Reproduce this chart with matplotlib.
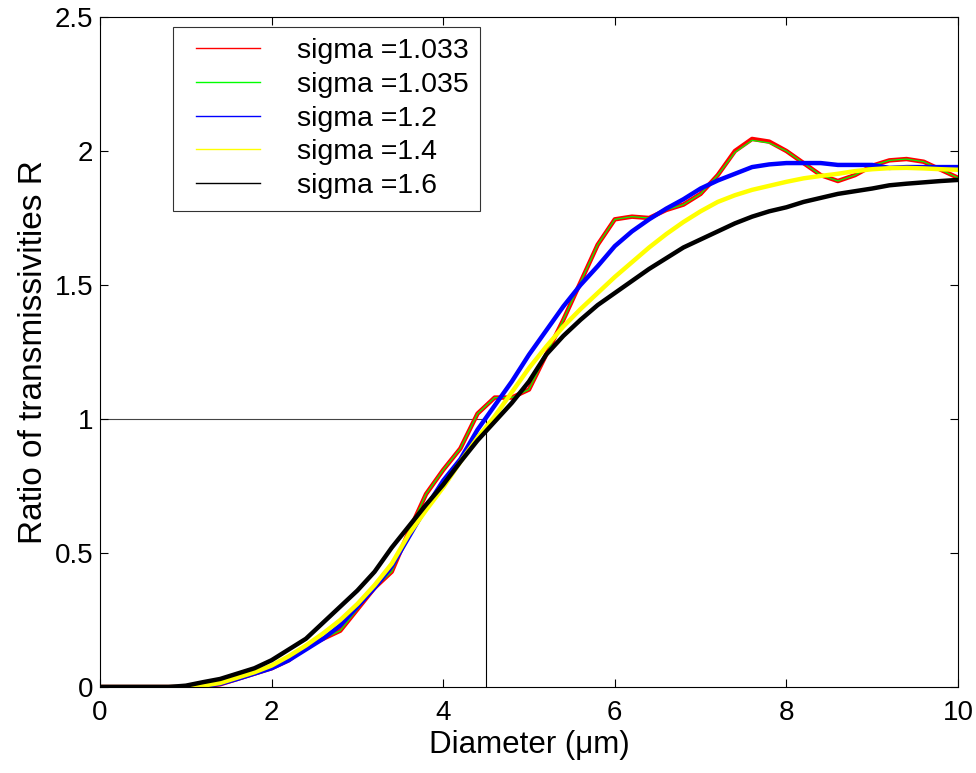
import numpy as np
import matplotlib.pyplot as plt

plt.rcParams['font.family'] = ['Liberation Sans', 'DejaVu Sans']

# diameter grid (um)
diam = [0.0, 0.2, 0.4, 0.6, 0.8, 1.0, 1.2, 1.4, 1.6, 1.8,
        2.0, 2.2, 2.4, 2.6, 2.8, 3.0, 3.2, 3.4, 3.6, 3.8,
        4.0, 4.2, 4.4, 4.6, 4.8, 5.0, 5.2, 5.4, 5.6, 5.8,
        6.0, 6.2, 6.4, 6.6, 6.8, 7.0, 7.2, 7.4, 7.6, 7.8,
        8.0, 8.2, 8.4, 8.6, 8.8, 9.0, 9.2, 9.4, 9.6, 9.8, 10.0]

r_1033 = [0, 0, 0, 0, 0, 0, 0.003, 0.01, 0.03, 0.05,
          0.07, 0.10, 0.15, 0.18, 0.21, 0.29, 0.37, 0.43, 0.58, 0.72,
          0.81, 0.89, 1.02, 1.08, 1.08, 1.11, 1.24, 1.37, 1.51, 1.65,
          1.745, 1.755, 1.75, 1.78, 1.80, 1.84, 1.91, 2.0, 2.045, 2.035,
          2.0, 1.955, 1.91, 1.888, 1.91, 1.945, 1.965, 1.97, 1.96, 1.93, 1.90]

r_1035 = [0, 0, 0, 0, 0, 0, 0.003, 0.01, 0.03, 0.05,
          0.07, 0.10, 0.15, 0.18, 0.21, 0.29, 0.37, 0.43, 0.58, 0.72,
          0.81, 0.89, 1.02, 1.08, 1.08, 1.11, 1.24, 1.37, 1.51, 1.65,
          1.745, 1.755, 1.75, 1.78, 1.80, 1.84, 1.91, 1.995, 2.04, 2.03,
          2.0, 1.955, 1.91, 1.888, 1.91, 1.945, 1.965, 1.97, 1.96, 1.93, 1.90]

r_12 = [0, 0, 0, 0, 0, 0, 0.003, 0.012, 0.03, 0.05,
        0.07, 0.10, 0.14, 0.18, 0.23, 0.30, 0.37, 0.45, 0.56, 0.67,
        0.77, 0.85, 0.96, 1.05, 1.14, 1.24, 1.33, 1.42, 1.50, 1.57,
        1.645, 1.70, 1.745, 1.785, 1.82, 1.86, 1.89, 1.915, 1.94, 1.95,
        1.955, 1.955, 1.955, 1.948, 1.948, 1.948, 1.937, 1.94, 1.94, 1.94, 1.94]

r_14 = [0, 0, 0, 0, 0, 0, 0.005, 0.015, 0.035, 0.055,
        0.08, 0.115, 0.155, 0.20, 0.25, 0.31, 0.38, 0.46, 0.57, 0.66,
        0.745, 0.84, 0.93, 1.01, 1.10, 1.19, 1.27, 1.345, 1.41, 1.47,
        1.53, 1.585, 1.64, 1.69, 1.735, 1.775, 1.81, 1.835, 1.855, 1.87,
        1.885, 1.898, 1.907, 1.915, 1.925, 1.932, 1.936, 1.937, 1.935, 1.932, 1.93]

r_16 = [0, 0, 0, 0, 0, 0.005, 0.018, 0.03, 0.05, 0.07,
        0.10, 0.14, 0.18, 0.24, 0.30, 0.36, 0.43, 0.52, 0.60, 0.68,
        0.755, 0.84, 0.92, 0.99, 1.06, 1.14, 1.24, 1.31, 1.37, 1.425,
        1.47, 1.515, 1.56, 1.60, 1.64, 1.67, 1.70, 1.73, 1.755, 1.775,
        1.79, 1.81, 1.825, 1.84, 1.85, 1.86, 1.872, 1.878, 1.883, 1.888, 1.892]

labels = ['sigma =1.033', 'sigma =1.035', 'sigma =1.2', 'sigma =1.4', 'sigma =1.6']

fig = plt.figure(figsize=(9.76, 7.73), dpi=100)
ax = fig.add_axes([100 / 976, 86 / 773, 858 / 976, 670 / 773])

# reference lines at R = 1
ax.plot([0, 4.5], [1, 1], color='#444444', lw=0.8, zorder=1)
ax.plot([4.5, 4.5], [0, 1], color='black', lw=0.8, zorder=1)

ax.plot(diam, r_1033, color='red', lw=3.2, label=labels[0], zorder=2)
ax.plot(diam, r_1035, color='#00ff00', lw=0.9, label=labels[1], zorder=2)
ax.plot(diam, r_12, color='blue', lw=3.2, label=labels[2], zorder=2)
ax.plot(diam, r_14, color='yellow', lw=3.2, label=labels[3], zorder=2)
ax.plot(diam, r_16, color='black', lw=3.2, label=labels[4], zorder=2)

ax.set_xlim(0, 10)
ax.set_ylim(0, 2.5)
ax.set_xticks([0, 2, 4, 6, 8, 10])
ax.set_yticks([0, 0.5, 1, 1.5, 2, 2.5])
ax.set_yticklabels(['0', '0.5', '1', '1.5', '2', '2.5'])
ax.tick_params(direction='in', top=True, right=True, labelsize=20, length=6,
               width=0.8, pad=5)
ax.tick_params(axis='x', pad=9)
for s in ax.spines.values():
    s.set_linewidth(0.8)

ax.set_xlabel('Diameter (\u03bcm)', fontsize=22.5, labelpad=3)
ax.set_ylabel('Ratio of transmissivities R', fontsize=24, labelpad=4)

leg = ax.legend(loc='upper left', bbox_to_anchor=(173 / 976, 1 - 27 / 773),
                bbox_transform=fig.transFigure, fontsize=20.5, frameon=True,
                fancybox=False, edgecolor='black', borderaxespad=0,
                handlelength=2.65, handletextpad=1.3, labelspacing=0.27,
                borderpad=0.4)
leg.get_frame().set_linewidth(0.8)
for ln in leg.get_lines():
    ln.set_linewidth(1.0)
    xd = np.array(ln.get_xdata(), dtype=float)
    xd[0] += 8
    ln.set_xdata(xd)

fig.savefig('out.png', dpi=100)
